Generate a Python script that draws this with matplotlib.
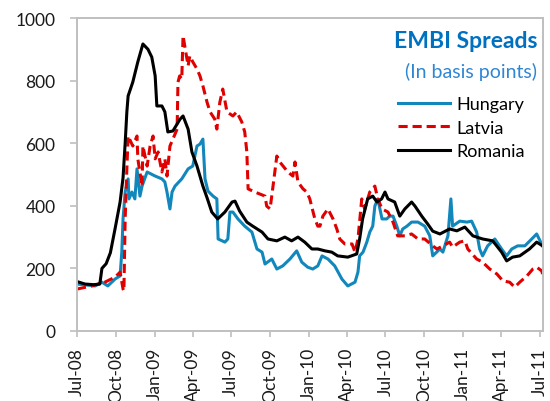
import matplotlib
matplotlib.use("Agg")
import matplotlib.pyplot as plt
import pandas as pd

# EMBI spreads, basis points
romania_dates = [
    "2008-07-01", "2008-07-20", "2008-08-10", "2008-08-24", "2008-08-29", "2008-09-08",
    "2008-09-18", "2008-09-29", "2008-10-11", "2008-10-18", "2008-10-23", "2008-10-27",
    "2008-10-30", "2008-11-10", "2008-11-22", "2008-12-04", "2008-12-16", "2008-12-25",
    "2009-01-02", "2009-01-06", "2009-01-18", "2009-01-25", "2009-02-01", "2009-02-13",
    "2009-03-02", "2009-03-09", "2009-03-21", "2009-03-30", "2009-04-11", "2009-04-25",
    "2009-05-05", "2009-05-16", "2009-05-30", "2009-06-16", "2009-07-03", "2009-07-10",
    "2009-07-21", "2009-08-07", "2009-08-21", "2009-09-12", "2009-09-26", "2009-10-17",
    "2009-11-05", "2009-11-21", "2009-12-06", "2009-12-22", "2010-01-08", "2010-01-22",
    "2010-02-08", "2010-02-24", "2010-03-10", "2010-04-03", "2010-04-24", "2010-05-01",
    "2010-05-08", "2010-05-20", "2010-06-01", "2010-06-11", "2010-06-22", "2010-06-30",
    "2010-07-07", "2010-07-23", "2010-08-04", "2010-08-16", "2010-09-01", "2010-09-09",
    "2010-09-25", "2010-10-09", "2010-10-21", "2010-11-07", "2010-11-30", "2010-12-17",
    "2011-01-05", "2011-01-24", "2011-02-16", "2011-03-12", "2011-04-02", "2011-04-14",
    "2011-04-28", "2011-05-15", "2011-06-07", "2011-06-24", "2011-07-08",
]
romania = [
    158, 150, 148, 150, 200, 215,
    250, 326, 412, 490, 600, 700,
    751, 795, 860, 917, 900, 875,
    815, 719, 719, 700, 636, 639,
    677, 687, 645, 572, 527, 463,
    425, 380, 358, 380, 412, 415,
    383, 348, 335, 316, 294, 288,
    300, 288, 300, 284, 262, 262,
    256, 252, 240, 236, 246, 294,
    358, 422, 431, 412, 422, 444,
    422, 412, 367, 390, 412, 399,
    367, 342, 319, 310, 326, 320,
    332, 304, 294, 288, 252, 224,
    236, 240, 262, 284, 272,
]

hungary_dates = [
    "2008-07-01", "2008-08-13", "2008-08-29", "2008-09-12", "2008-09-29", "2008-10-11",
    "2008-10-15", "2008-10-18", "2008-10-23", "2008-10-30", "2008-11-01", "2008-11-08",
    "2008-11-15", "2008-11-20", "2008-11-27", "2008-12-02", "2008-12-14", "2009-01-02",
    "2009-01-18", "2009-01-25", "2009-01-30", "2009-02-06", "2009-02-11", "2009-02-18",
    "2009-03-06", "2009-03-21", "2009-04-01", "2009-04-11", "2009-04-18", "2009-04-25",
    "2009-04-30", "2009-05-07", "2009-05-19", "2009-05-28", "2009-05-31", "2009-06-16",
    "2009-06-23", "2009-06-28", "2009-07-05", "2009-07-17", "2009-08-02", "2009-08-19",
    "2009-08-31", "2009-09-12", "2009-09-19", "2009-10-05", "2009-10-17", "2009-10-31",
    "2009-11-17", "2009-12-03", "2009-12-15", "2009-12-29", "2010-01-10", "2010-01-22",
    "2010-02-01", "2010-02-15", "2010-03-03", "2010-03-20", "2010-04-03", "2010-04-20",
    "2010-04-27", "2010-05-01", "2010-05-09", "2010-05-18", "2010-05-25", "2010-06-01",
    "2010-06-06", "2010-06-13", "2010-06-23", "2010-07-04", "2010-07-11", "2010-07-19",
    "2010-07-28", "2010-08-04", "2010-08-11", "2010-08-21", "2010-09-01", "2010-09-16",
    "2010-10-02", "2010-10-14", "2010-10-21", "2010-11-07", "2010-11-14", "2010-11-26",
    "2010-12-03", "2010-12-07", "2010-12-24", "2011-01-10", "2011-01-21", "2011-02-02",
    "2011-02-09", "2011-02-16", "2011-02-28", "2011-03-17", "2011-04-02", "2011-04-14",
    "2011-04-26", "2011-05-10", "2011-05-27", "2011-06-08", "2011-06-24", "2011-07-08",
]
hungary = [
    150, 144, 156, 144, 166, 176,
    252, 358, 444, 486, 422, 444,
    422, 518, 431, 463, 508, 495,
    486, 476, 444, 390, 444, 463,
    486, 518, 527, 591, 597, 613,
    486, 447, 431, 422, 294, 284,
    294, 380, 380, 358, 335, 316,
    262, 252, 214, 230, 198, 208,
    230, 256, 220, 204, 198, 208,
    240, 230, 208, 166, 144, 156,
    188, 240, 252, 284, 316, 335,
    399, 422, 358, 358, 367, 367,
    335, 304, 326, 335, 348, 348,
    335, 304, 240, 262, 252, 304,
    422, 335, 351, 348, 351, 316,
    262, 240, 272, 294, 262, 240,
    262, 272, 272, 288, 310, 272,
]

latvia_dates = [
    "2008-07-01", "2008-08-05", "2008-09-05", "2008-09-29", "2008-10-11", "2008-10-18",
    "2008-10-20", "2008-10-23", "2008-10-27", "2008-10-30", "2008-11-10", "2008-11-20",
    "2008-11-22", "2008-12-02", "2008-12-04", "2008-12-14", "2008-12-21", "2008-12-28",
    "2009-01-02", "2009-01-09", "2009-01-18", "2009-01-25", "2009-01-30", "2009-02-06",
    "2009-02-13", "2009-02-23", "2009-02-25", "2009-03-01", "2009-03-06", "2009-03-09",
    "2009-03-13", "2009-03-21", "2009-03-25", "2009-04-01", "2009-04-11", "2009-04-18",
    "2009-04-25", "2009-05-05", "2009-05-12", "2009-05-23", "2009-05-28", "2009-06-04",
    "2009-06-11", "2009-06-21", "2009-07-05", "2009-07-14", "2009-07-26", "2009-08-02",
    "2009-08-07", "2009-08-10", "2009-08-26", "2009-09-19", "2009-09-23", "2009-10-01",
    "2009-10-08", "2009-10-17", "2009-10-24", "2009-11-12", "2009-11-24", "2009-11-29",
    "2009-12-06", "2009-12-18", "2009-12-27", "2010-01-03", "2010-01-15", "2010-01-22",
    "2010-01-27", "2010-02-03", "2010-02-15", "2010-02-27", "2010-03-08", "2010-03-15",
    "2010-03-27", "2010-04-13", "2010-04-20", "2010-04-27", "2010-05-06", "2010-05-13",
    "2010-05-25", "2010-06-06", "2010-06-13", "2010-06-23", "2010-07-07", "2010-07-19",
    "2010-07-30", "2010-08-16", "2010-09-01", "2010-09-16", "2010-10-02", "2010-10-21",
    "2010-10-31", "2010-11-14", "2010-11-30", "2010-12-07", "2010-12-24", "2011-01-05",
    "2011-01-12", "2011-02-02", "2011-02-16", "2011-03-05", "2011-03-22", "2011-04-05",
    "2011-04-21", "2011-05-03", "2011-05-15", "2011-06-01", "2011-06-15", "2011-06-24",
    "2011-07-06", "2011-07-08",
]
latvia = [
    134, 144, 156, 172, 188, 134,
    128, 358, 518, 623, 591, 623,
    550, 463, 591, 527, 591, 623,
    550, 572, 508, 550, 495, 591,
    613, 645, 795, 815, 805, 943,
    911, 847, 879, 860, 837, 815,
    783, 730, 700, 677, 645, 730,
    773, 700, 687, 700, 668, 636,
    572, 454, 444, 431, 399, 390,
    463, 559, 540, 508, 495, 540,
    476, 454, 444, 422, 358, 335,
    335, 367, 390, 358, 326, 294,
    278, 278, 252, 294, 422, 390,
    444, 463, 422, 390, 380, 348,
    304, 304, 310, 294, 294, 272,
    262, 272, 284, 268, 284, 288,
    262, 230, 220, 198, 182, 160,
    156, 140, 156, 176, 198, 204,
    192, 182,
]

tick_dates = [
    "2008-07-01", "2008-10-01", "2009-01-01", "2009-04-01", "2009-07-01",
    "2009-10-01", "2010-01-01", "2010-04-01", "2010-07-01", "2010-10-01",
    "2011-01-01", "2011-04-01", "2011-07-01",
]

plt.rcParams["font.family"] = ["Lato", "DejaVu Sans"]
grey = "#BFBFBF"
txt = "#1a1a1a"

fig = plt.figure(figsize=(5.5, 4.02), dpi=100)
ax = fig.add_axes([77 / 550, 1 - 332 / 402, (543 - 77) / 550, (332 - 19) / 402])

ax.plot(pd.to_datetime(hungary_dates), hungary, color="#1287BB", lw=2.2, label="Hungary")
ax.plot(pd.to_datetime(latvia_dates), latvia, color="#E00000", lw=2.2,
        dashes=(3, 1.6), label="Latvia")
ax.plot(pd.to_datetime(romania_dates), romania, color="black", lw=2.2, label="Romania")

ax.set_ylim(0, 1000)
ax.set_yticks(range(0, 1001, 200))
ax.set_xlim(pd.Timestamp("2008-07-01"), pd.Timestamp("2011-07-09"))
ticks = pd.to_datetime(tick_dates)
ax.set_xticks(ticks)
ax.set_xticklabels([t.strftime("%b-%y") for t in ticks], rotation=90, va="top")

for s in ax.spines.values():
    s.set_color(grey)
    s.set_linewidth(1.4)
ax.tick_params(axis="y", length=5, width=1.2, color=grey, pad=10.5, labelsize=12.5, labelcolor=txt)
ax.tick_params(axis="x", length=4.5, width=1.2, color=grey, pad=7, labelsize=12.5, labelcolor=txt)

fig.text(537 / 550, 1 - 42 / 402, "EMBI Spreads", ha="right", va="center",
         fontsize=16.5, weight="bold", color="#0070C0")
fig.text(537 / 550, 1 - 72 / 402, "(In basis points)", ha="right", va="center",
         fontsize=14, color="#2E86D4")

ax.legend(loc="upper left", bbox_to_anchor=(398 / 550, 1 - 97 / 402),
          bbox_transform=fig.transFigure, frameon=False, fontsize=13,
          handlelength=2.9, handletextpad=0.35, labelspacing=0.42,
          borderaxespad=0, borderpad=0)

fig.savefig("out.png", dpi=100)
